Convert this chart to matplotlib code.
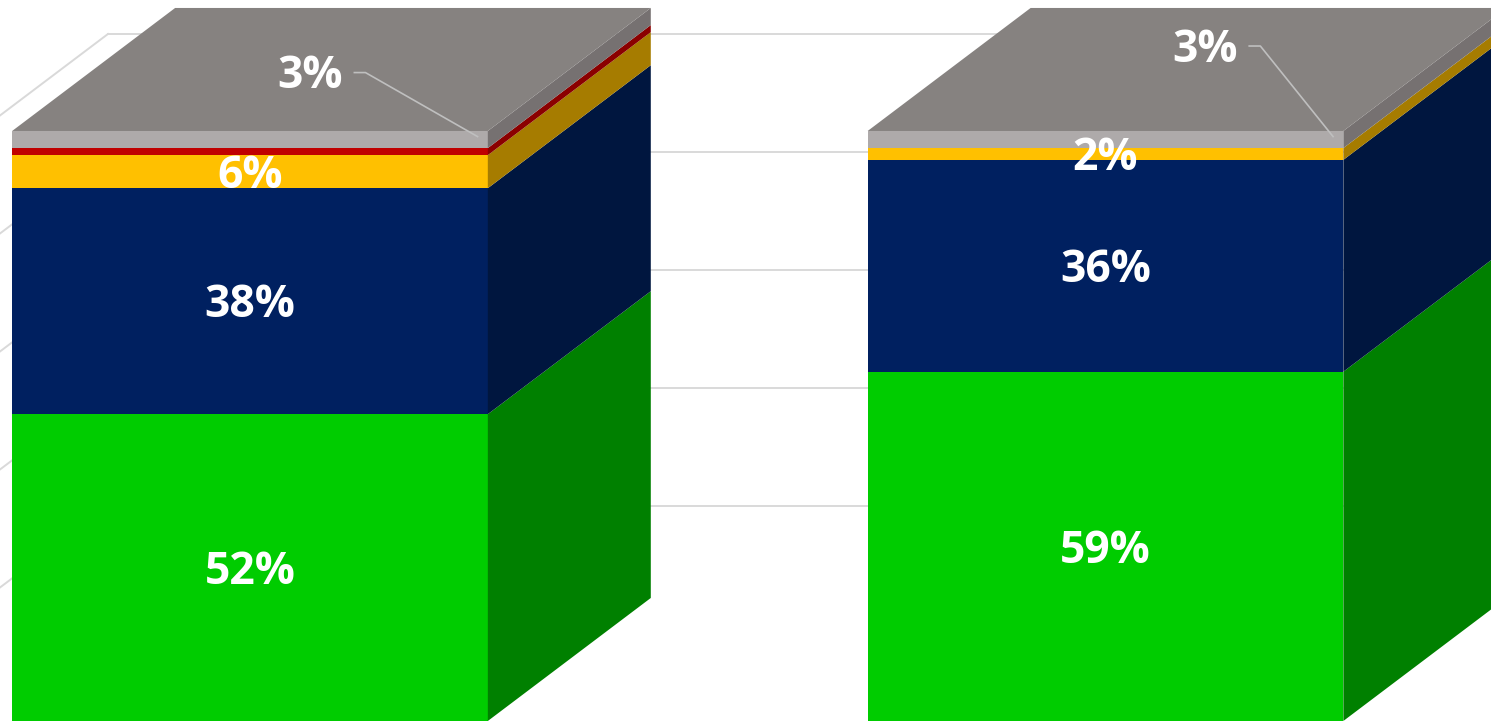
import numpy as np
import matplotlib.pyplot as plt
from matplotlib.patches import Polygon

# Data (percent shares, bottom to top)
categories = ['A', 'B']
series_names = ['Green', 'Navy', 'Yellow', 'Red', 'Gray']
green = [52.0, 59.2]
navy = [38.3, 35.9]
yellow = [5.6, 2.0]
red = [1.2, 0.0]
gray = [2.9, 2.9]
show_label = [True, True, True, False, True]

# gray (top) labels are placed outside with a leader line
top_label_dx = [0.07, 0.116]
top_label_y = [109.2, 113.7]

grid_levels = [20, 40, 60, 80, 100]

# styles
front_cols = ['#00CC00', '#002060', '#FFC000', '#C00000', '#AEAAAA']
side_cols = ['#008000', '#00163F', '#A67C00', '#8B0000', '#767171']
top_col = '#868280'
lab_font = dict(color='white', fontsize=32, fontweight='bold', family='Open Sans',
                ha='center', va='center', zorder=6)

bar_w = 0.556
DX, DY = 0.1905, 20.85        # oblique depth offset (x units, pct units)
WALL_X, WALL_DY = -0.166, 16.44  # back wall corner and lift

fig = plt.figure(figsize=(14.91, 7.23), dpi=100)
ax = fig.add_axes([0, 0, 1, 1])
ax.set_xlim(-0.2922, 1.4506)
ax.set_ylim(-0.34, 122.2)
ax.axis('off')

# back wall gridlines + side wall diagonals
for g in grid_levels:
    yb = g + WALL_DY
    ax.plot([WALL_X, 2.0], [yb, yb], color='#D9D9D9', lw=1.4, zorder=1)
    t = (WALL_X + 0.35) / DX
    ax.plot([WALL_X, WALL_X - t * DX], [yb, yb - t * DY], color='#D9D9D9', lw=1.4, zorder=1)

data = np.array([green, navy, yellow, red, gray])

for i, cat in enumerate(categories):
    x0 = i - bar_w / 2
    x1 = i + bar_w / 2
    bottom = 0.0
    for s in range(len(series_names)):
        v = data[s, i]
        if v <= 0:
            continue
        b, t = bottom, bottom + v
        ax.add_patch(Polygon([(x0, b), (x1, b), (x1, t), (x0, t)], closed=True,
                             facecolor=front_cols[s], edgecolor='none', zorder=3))
        ax.add_patch(Polygon([(x1, b), (x1 + DX, b + DY), (x1 + DX, t + DY), (x1, t)],
                             closed=True, facecolor=side_cols[s], edgecolor='none', zorder=3))
        if show_label[s] and s < len(series_names) - 1:
            ax.text(i, (b + t) / 2 - 0.8, f'{v:.0f}%', **lab_font)
        bottom = t
    top = bottom
    ax.add_patch(Polygon([(x0, top), (x0 + DX, top + DY), (x1 + DX, top + DY), (x1, top)],
                         closed=True, facecolor=top_col, edgecolor='none', zorder=3))
    # gray label with leader line
    v = data[-1, i]
    lx, ly = i + top_label_dx[i], top_label_y[i]
    ax.text(lx, ly, f'{v:.0f}%', **lab_font)
    sx = lx + 0.052
    ax.plot([sx, sx + 0.013, x1 - 0.012], [ly + 0.7, ly + 0.7, top - v / 2 + 0.5],
            color='#BFBFBF', lw=1.2, zorder=5)

fig.savefig('out.png', dpi=100)
